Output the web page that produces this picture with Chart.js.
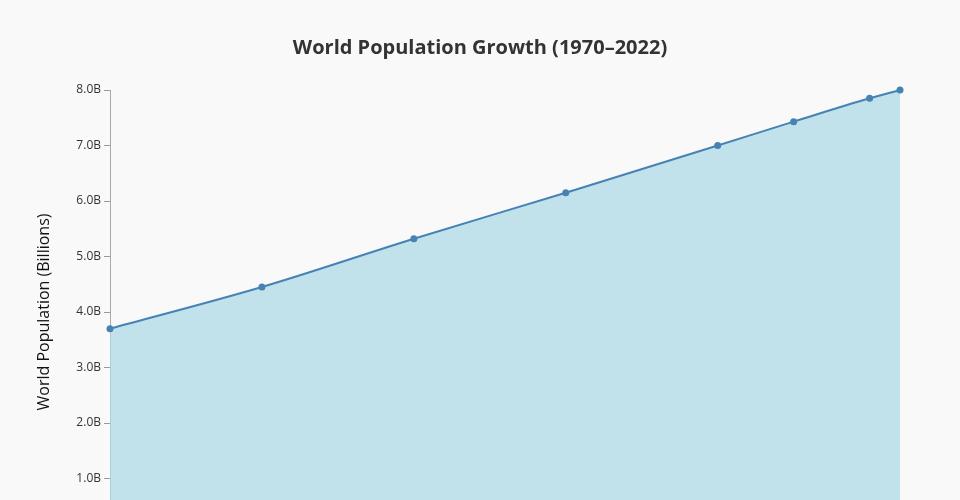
<!DOCTYPE html>
<html>
<head>
<meta charset="utf-8">
<script src="https://cdn.jsdelivr.net/npm/chart.js@4"></script>
<style>
  html, body { margin: 0; padding: 0; background: #f9f9f9; }
  #wrap { width: 960px; height: 600px; }
</style>
</head>
<body>
<div id="wrap"><canvas id="popChart" width="960" height="600"></canvas></div>
<script>
// world population, billions
const years = [1970, 1980, 1990, 2000, 2010, 2015, 2020, 2022];
const population = [3.70, 4.45, 5.32, 6.15, 7.00, 7.43, 7.85, 8.00];
const yTicks = [0, 1, 2, 3, 4, 5, 6, 7, 8];

const bgPlugin = {
  id: 'bg',
  beforeDraw(chart) {
    const c = chart.ctx;
    c.save();
    c.fillStyle = '#f9f9f9';
    c.fillRect(0, 0, chart.width, chart.height);
    c.restore();
  }
};

const ctx = document.getElementById('popChart').getContext('2d');
new Chart(ctx, {
  type: 'line',
  data: {
    datasets: [{
      label: 'World Population',
      data: years.map((y, i) => ({ x: y, y: population[i] })),
      borderColor: '#4682b4',
      backgroundColor: 'rgba(173, 216, 230, 0.75)',
      borderWidth: 2,
      fill: 'origin',
      clip: false,
      cubicInterpolationMode: 'monotone',
      pointRadius: 3.5,
      pointBackgroundColor: '#4682b4',
      pointBorderColor: '#4682b4',
      pointBorderWidth: 0
    }]
  },
  options: {
    responsive: false,
    animation: false,
    layout: { padding: 0 },
    plugins: {
      legend: { display: false },
      tooltip: { enabled: false },
      title: {
        display: true,
        text: 'World Population Growth (1970–2022)',
        color: '#333',
        font: { family: 'Open Sans', size: 20, weight: 'bold', lineHeight: 1.2 },
        padding: { top: 36, bottom: 30 }
      }
    },
    scales: {
      x: {
        type: 'linear',
        min: 1970,
        max: 2022,
        afterFit: s => { s.height = 66; },
        grid: { display: false, drawTicks: true, tickLength: 6, color: '#999' },
        border: { color: '#aaa' },
        ticks: {
          stepSize: 10,
          color: '#333',
          font: { family: 'Open Sans', size: 12 },
          callback: v => String(v)
        },
        title: {
          display: true,
          text: 'Year',
          color: '#111',
          font: { family: 'Open Sans', size: 16 }
        }
      },
      y: {
        min: 0,
        max: 8,
        afterBuildTicks: s => { s.ticks = yTicks.map(v => ({ value: v })); },
        afterFit: s => { s.width = 110; },
        grid: { display: true, drawOnChartArea: false, tickLength: 6, color: '#999' },
        border: { color: '#aaa' },
        ticks: {
          color: '#333',
          padding: 3,
          font: { family: 'Open Sans', size: 12 },
          callback: v => v.toFixed(1) + 'B'
        },
        title: {
          display: true,
          text: 'World Population (Billions)',
          color: '#111',
          padding: { top: 35, bottom: 0 },
          font: { family: 'Open Sans', size: 16 }
        }
      },
      // empty right-hand axis, only reserves the right margin
      yRight: {
        position: 'right',
        min: 0,
        max: 8,
        afterFit: s => { s.width = 60; },
        grid: { display: false },
        border: { display: false },
        ticks: { display: false }
      }
    }
  },
  plugins: [bgPlugin]
});
</script>
</body>
</html>
